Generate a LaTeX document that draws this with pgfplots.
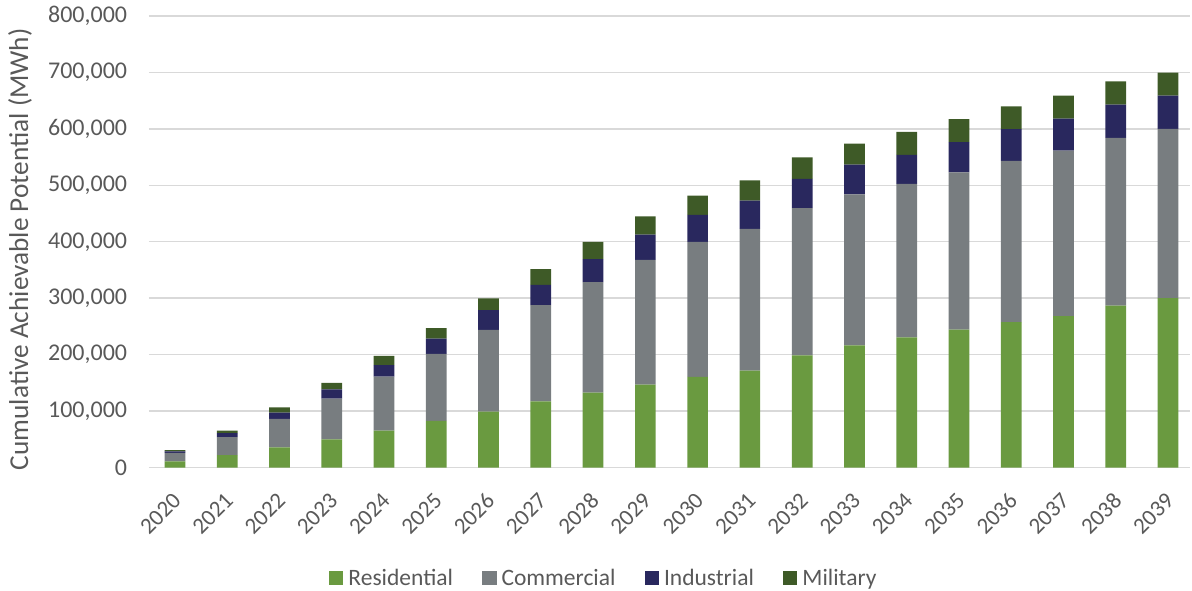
\documentclass[border=0pt]{standalone}
\usepackage{pgfplots}
\pgfplotsset{compat=1.18}
\usepackage{pgfplotstable}
\usepackage{fontspec}
\setmainfont{Carlito}
\definecolor{res}{HTML}{6A9A40}
\definecolor{com}{HTML}{787D80}
\definecolor{ind}{HTML}{29285E}
\definecolor{mil}{HTML}{3E5A27}
\definecolor{txt}{HTML}{595959}
\definecolor{gridc}{HTML}{D9D9D9}
\pgfplotstableread{
x res com ind mil
0 10700 15400 2300 2500
1 22000 32000 7100 4100
2 35500 50500 11200 9400
3 49700 72300 16500 11400
4 65200 95900 20100 16700
5 82800 118400 27200 18500
6 98800 145100 35000 20600
7 117200 170500 36100 27900
8 132500 196100 40800 30200
9 146700 221000 44900 32500
10 160400 239200 48000 34300
11 171700 251300 49900 35900
12 198900 260500 51800 38100
13 216500 267500 52500 37500
14 230600 271800 51700 40600
15 244100 278800 53600 40600
16 257400 285800 56200 40600
17 268300 293300 56600 40700
18 286700 297400 58900 41200
19 300200 299800 58900 40700
}\data
\pgfplotsset{sqlegend/.style={legend image code/.code={\fill[##1] (0pt,-7.25pt) rectangle (14.5pt,7.25pt);}}}
\begin{document}
\begin{tikzpicture}
\path[use as bounding box] (-148.8pt,-122.5pt) rectangle (1043.2pt,467.5pt);
\begin{axis}[
  at={(0pt,0pt)}, anchor=south west,
  scale only axis, width=1041.2pt, height=451.5pt,
  ybar stacked, bar width=20.7pt,
  xmin=-0.5, xmax=19.42, ymin=0, ymax=800000,
  xtick={0,...,19},
  xticklabels={2020,2021,2022,2023,2024,2025,2026,2027,2028,2029,2030,2031,2032,2033,2034,2035,2036,2037,2038,2039},
  ytick={0,100000,...,800000},
  scaled y ticks=false,
  /pgf/number format/assume math mode=true,
  /pgf/number format/fixed,
  /pgf/number format/1000 sep={,},
  yticklabel style={anchor=east, inner sep=0pt, xshift=-21.5pt, font=\fontsize{24}{28}\selectfont, text=txt},
  xticklabel style={yshift=-29.5pt, xshift=2pt, rotate=45, anchor=east, inner sep=0pt, font=\fontsize{23}{27}\selectfont, text=txt},
  major tick length=0pt,
  axis line style={draw=none},
  ymajorgrids, grid style={gridc, line width=1.4pt},
  ylabel={Cumulative Achievable Potential (MWh)},
  ylabel style={at={(axis description cs:-0.1237,0.4835)}, anchor=center, font=\fontsize{27.3}{32}\selectfont, text=txt},
  legend columns=4,
  legend style={at={(axis description cs:0.4360,-0.2447)}, anchor=center, draw=none, fill=none,
    font=\fontsize{23.5}{28}\selectfont, text=txt,
    nodes={inner sep=0pt},
    /tikz/every odd column/.append style={column sep=5pt},
    /tikz/every even column/.append style={column sep=29pt}},
]
\addplot[fill=res, draw=none, sqlegend] table[x=x, y=res] {\data};
\addplot[fill=com, draw=none, sqlegend] table[x=x, y=com] {\data};
\addplot[fill=ind, draw=none, sqlegend] table[x=x, y=ind] {\data};
\addplot[fill=mil, draw=none, sqlegend] table[x=x, y=mil] {\data};
\legend{Residential, Commercial, Industrial, Military}
\end{axis}
\end{tikzpicture}
\end{document}
